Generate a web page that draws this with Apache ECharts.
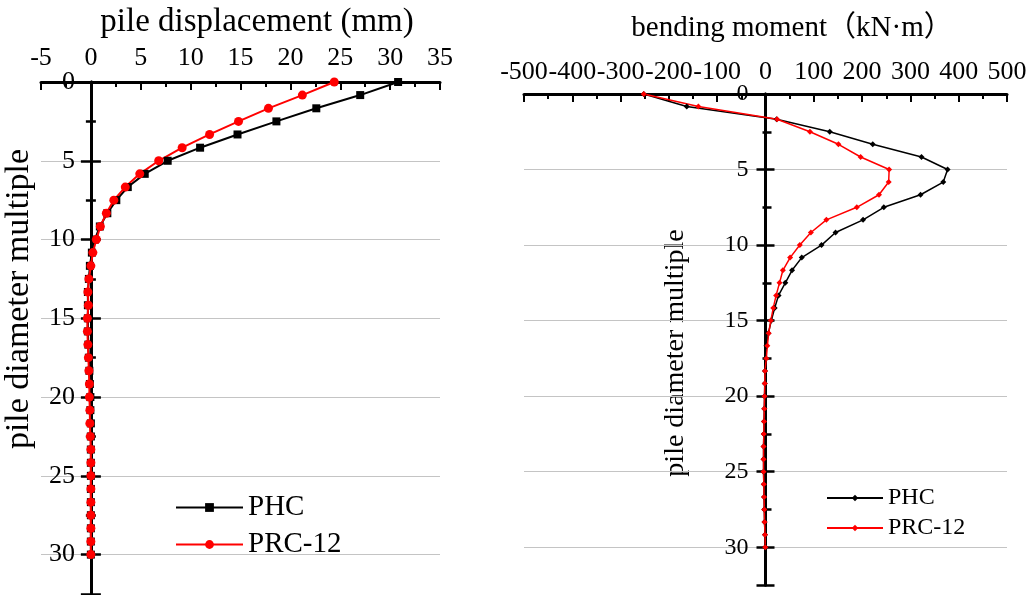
<!DOCTYPE html>
<html><head><meta charset="utf-8">
<script src="https://cdn.jsdelivr.net/npm/echarts@6/dist/echarts.min.js"></script>
<style>html,body{margin:0;padding:0;background:#fff}#c{width:1032px;height:595px}</style>
</head><body><div id="c"></div>
<script>
// depth in pile-diameter multiples (shared by both panels)
const depthMultiples = [0, 0.83, 1.67, 2.5, 3.33, 4.17, 5, 5.83, 6.67, 7.5, 8.33, 9.17, 10, 10.83, 11.67, 12.5, 13.33, 14.17, 15, 15.83, 16.67, 17.5, 18.33, 19.17, 20, 20.83, 21.67, 22.5, 23.33, 24.17, 25, 25.83, 26.67, 27.5, 28.33, 29.17, 30];
// left panel: pile displacement (mm)
const dispPHC = [30.8, 27.0, 22.6, 18.6, 14.7, 10.95, 7.7, 5.4, 3.7, 2.55, 1.65, 0.9, 0.4, 0.1, -0.1, -0.2, -0.3, -0.3, -0.3, -0.3, -0.25, -0.2, -0.15, -0.1, -0.05, -0.05, 0, 0, 0, 0, 0, 0, 0, 0, 0, 0, 0];
const dispPRC = [24.4, 21.2, 17.8, 14.8, 11.9, 9.15, 6.8, 4.9, 3.45, 2.3, 1.55, 0.95, 0.55, 0.2, 0, -0.2, -0.3, -0.25, -0.35, -0.35, -0.3, -0.25, -0.2, -0.15, -0.15, -0.1, -0.1, -0.05, 0, 0, 0, 0, 0, 0, 0, 0, 0];
// right panel: bending moment (kN·m)
const momentPHC = [-252, -163, 23, 133, 222, 323, 377, 368, 321, 245, 202, 145, 116, 75, 55, 41, 27, 19, 12, 6, 2, 1, -1, -1.5, -2, -2.5, -3, -3.5, -4, -4, -4, -3.5, -3, -2.5, -2, -1, -0.5];
const momentPRC = [-252, -139, 24, 92, 151, 197, 256, 255, 235, 189, 126, 94, 71, 51, 36, 29, 22, 16, 11, 6.6, 3.8, 1.7, -1, -1.5, -2, -2.5, -3, -3.5, -4, -4, -4, -3.5, -3, -2.5, -2, -1, -0.5];
const seriesNames = ['PHC', 'PRC-12'];
const leftTitle = 'pile displacement (mm)';
const rightTitle = 'bending moment（kN·m）';
const yTitle = 'pile diameter multiple';

const FONT = "'Liberation Serif', 'Times New Roman', serif";
const pairs = (vals) => vals.map((v, i) => [v, depthMultiples[i]]);

const grids = [
  { left: 41, top: 82, width: 399, height: 512, outerBoundsMode: 'none', containLabel: false },
  { left: 524, top: 94, width: 483, height: 491, outerBoundsMode: 'none', containLabel: false }
];
const xRanges = [[-5, 35, 5], [-500, 500, 100]];
// offset that puts the vertical axis at x = 0 of its panel
const zeroOffset = (g) => -grids[g].width * (0 - xRanges[g][0]) / (xRanges[g][1] - xRanges[g][0]);

function xAx(g, fs, margin) {
  return {
    type: 'value', gridIndex: g, position: 'top', min: xRanges[g][0], max: xRanges[g][1], interval: xRanges[g][2],
    axisLine: { onZero: false, lineStyle: { color: '#000', width: 3 } },
    axisTick: { inside: true, length: 8, lineStyle: { color: '#000', width: 2 } },
    minorTick: { show: true, splitNumber: 2, length: 5, lineStyle: { color: '#000', width: 2 } },
    axisLabel: { color: '#000', fontSize: fs, fontFamily: FONT, margin },
    splitLine: { show: false }
  };
}
function yAxMain(g, fs, margin, tickLen, minorLen) {
  return {
    type: 'value', gridIndex: g, position: 'left', offset: zeroOffset(g), inverse: true, min: 0, max: 32.5, interval: 5,
    axisLine: { onZero: false, lineStyle: { color: '#000', width: 3 } },
    axisTick: { inside: true, length: tickLen, lineStyle: { color: '#000', width: 2.5 } },
    minorTick: { show: true, splitNumber: 2, length: minorLen, lineStyle: { color: '#000', width: 2.5 } },
    axisLabel: { color: '#000', fontSize: fs, fontFamily: FONT, margin, showMaxLabel: false },
    splitLine: { show: false }
  };
}
function yAxOut(g, tickLen, minorLen) {
  return {
    type: 'value', gridIndex: g, position: 'left', offset: zeroOffset(g), inverse: true, min: 0, max: 32.5, interval: 5,
    axisLine: { show: true, onZero: false, lineStyle: { color: '#000', width: 3 } },
    axisTick: { inside: false, length: tickLen, lineStyle: { color: '#000', width: 2.5 } },
    minorTick: { show: true, splitNumber: 2, length: minorLen, lineStyle: { color: '#000', width: 2.5 } },
    axisLabel: { show: false },
    splitLine: { show: true, showMinLine: false, showMaxLine: false, lineStyle: { color: '#c4c4c4', width: 1 } },
    z: 0
  };
}

const chart = echarts.init(document.getElementById('c'), null, { renderer: 'canvas' });
chart.setOption({
  animation: false,
  backgroundColor: '#fff',
  textStyle: { fontFamily: FONT },
  grid: grids,
  xAxis: [xAx(0, 26, 11), xAx(1, 26, 9)],
  yAxis: [
    yAxOut(0, 10, 5), yAxMain(0, 26, 16, 10, 5),
    yAxOut(1, 9, 3), yAxMain(1, 24, 17, 9, 6)
  ],
  legend: [
    { orient: 'vertical', left: 170, top: 488, itemWidth: 67, itemHeight: 11, itemGap: 8,
      textStyle: { color: '#000', fontSize: 29, fontFamily: FONT }, data: [seriesNames[0], seriesNames[1]] },
    { orient: 'vertical', left: 821, top: 481, itemWidth: 56, itemHeight: 8, itemGap: 6,
      textStyle: { color: '#000', fontSize: 24, fontFamily: FONT }, data: [seriesNames[0] + ' ', seriesNames[1] + ' '] }
  ],
  graphic: [
    { type: 'text', x: 257, y: 22, style: { text: leftTitle, font: "33px " + FONT, fill: '#000', align: 'center', verticalAlign: 'middle' } },
    { type: 'text', x: 792, y: 28, style: { text: rightTitle, font: "29px 'Liberation Serif', 'Noto Sans CJK SC', serif", fill: '#000', align: 'center', verticalAlign: 'middle' } },
    { type: 'text', x: 19, y: 299, rotation: Math.PI / 2, style: { text: yTitle, font: "34px " + FONT, fill: '#000', align: 'center', verticalAlign: 'middle' } },
    { type: 'text', x: 676, y: 353, rotation: Math.PI / 2, style: { text: yTitle, font: "28px " + FONT, fill: '#000', align: 'center', verticalAlign: 'middle' } }
  ],
  series: [
    { name: seriesNames[0], type: 'line', xAxisIndex: 0, yAxisIndex: 1, data: pairs(dispPHC),
      symbol: 'rect', symbolSize: 8, showAllSymbol: true, color: '#000', lineStyle: { color: '#000', width: 2 }, itemStyle: { color: '#000' } },
    { name: seriesNames[1], type: 'line', xAxisIndex: 0, yAxisIndex: 1, data: pairs(dispPRC),
      symbol: 'circle', symbolSize: 9, showAllSymbol: true, color: '#ff0000', lineStyle: { color: '#ff0000', width: 2 }, itemStyle: { color: '#ff0000' } },
    { name: seriesNames[0] + ' ', type: 'line', xAxisIndex: 1, yAxisIndex: 3, data: pairs(momentPHC),
      symbol: 'diamond', symbolSize: 6, showAllSymbol: true, color: '#000', lineStyle: { color: '#000', width: 1.5 }, itemStyle: { color: '#000' } },
    { name: seriesNames[1] + ' ', type: 'line', xAxisIndex: 1, yAxisIndex: 3, data: pairs(momentPRC),
      symbol: 'diamond', symbolSize: 6, showAllSymbol: true, color: '#ff0000', lineStyle: { color: '#ff0000', width: 1.5 }, itemStyle: { color: '#ff0000' } }
  ]
});
</script></body></html>
